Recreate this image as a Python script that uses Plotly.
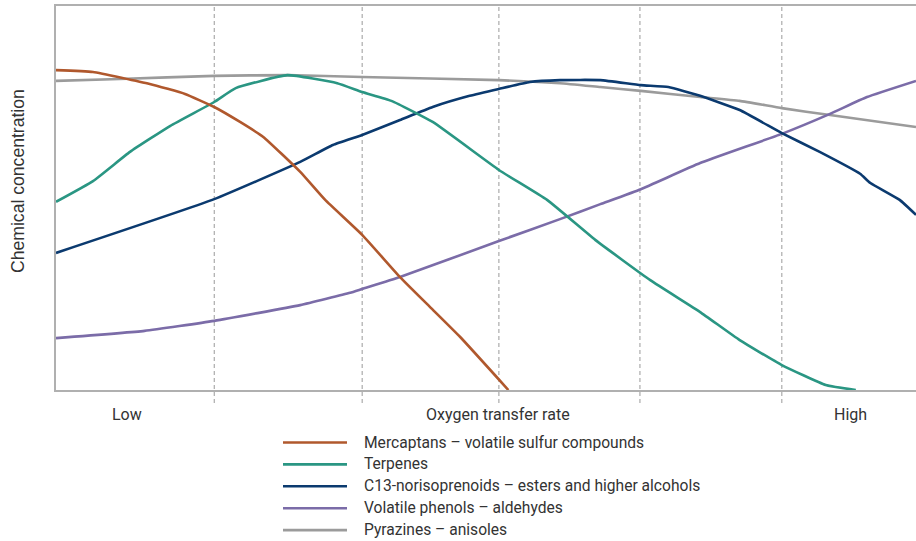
import plotly.graph_objects as go

# ---- data (x: oxygen transfer rate 0-100, y: relative concentration 0-100) ----
series_names = [
    "Mercaptans – volatile sulfur compounds",
    "Terpenes",
    "C13-norisoprenoids – esters and higher alcohols",
    "Volatile phenols – aldehydes",
    "Pyrazines – anisoles",
]
series_colors = ["#B0582D", "#2A9683", "#0B3A6F", "#7B6CA8", "#9B9B9B"]

merc_x = [0, 4.3, 10.9, 15.0, 18.4, 21.4, 24.1, 28.4, 31.3, 35.6, 40.0, 43.5, 47.0, 52.6]
merc_y = [83.3, 82.8, 79.7, 77.1, 73.7, 69.8, 65.9, 56.8, 49.5, 40.4, 29.4, 21.6, 13.8, 0]

terp_x = [0, 4.3, 8.6, 13.3, 18.4, 20.9, 26.9, 32.7, 35.6, 39.0, 43.8, 51.5, 57.1, 62.7, 69.1, 74.9, 79.5, 84.4, 89.5, 93.0]
terp_y = [49.0, 54.4, 62.0, 68.8, 75.0, 78.6, 82.0, 79.9, 77.6, 75.3, 69.8, 57.3, 49.5, 39.1, 28.6, 20.3, 13.0, 6.5, 1.3, 0]

c13_x = [0, 18.4, 28.4, 32.2, 35.6, 40.0, 43.8, 48.1, 51.5, 55.1, 58.6, 63.3, 68.0, 71.2, 74.9, 79.5, 84.4, 88.8, 93.5, 94.7, 98.1, 100]
c13_y = [35.7, 49.7, 59.4, 63.8, 66.4, 70.3, 73.7, 76.6, 78.4, 80.2, 80.7, 80.7, 79.4, 78.9, 76.6, 72.9, 66.9, 62.0, 56.3, 53.9, 49.5, 45.6]

phen_x = [0, 10.3, 18.4, 28.4, 34.2, 35.6, 40.0, 51.5, 58.6, 63.3, 68.0, 74.9, 84.4, 90.0, 94.3, 100]
phen_y = [13.5, 15.4, 18.0, 22.1, 25.3, 26.3, 29.4, 38.8, 44.5, 48.4, 52.3, 59.1, 66.7, 71.9, 76.3, 80.5]

pyr_x = [0, 7.4, 18.4, 26.9, 35.6, 51.5, 58.6, 63.3, 68.0, 74.9, 79.5, 84.4, 90.0, 100]
pyr_y = [80.5, 81.0, 81.8, 82.0, 81.5, 80.7, 79.9, 78.9, 77.9, 76.3, 75.3, 73.4, 71.6, 68.5]

divider_x = [18.4, 35.6, 51.5, 67.9, 84.4]

axis_label_x = [8.3, 51.4, 92.4]
axis_label_text = ["Low", "Oxygen transfer rate", "High"]
y_title = "Chemical concentration"

xs = [merc_x, terp_x, c13_x, phen_x, pyr_x]
ys = [merc_y, terp_y, c13_y, phen_y, pyr_y]

FONT = "Roboto, Liberation Sans, Arial, sans-serif"
TXT = "#333333"

fig = go.Figure()
order = [4, 3, 2, 1, 0]
for i in order:
    fig.add_trace(go.Scatter(
        x=xs[i], y=ys[i], mode="lines", name=series_names[i],
        line=dict(color=series_colors[i], width=2.6, shape="spline", smoothing=0.4),
        showlegend=False, hoverinfo="skip",
    ))

shapes = []
for dx in divider_x:
    shapes.append(dict(type="line", xref="x", yref="paper", x0=dx, x1=dx,
                       y0=-13 / 384, y1=1,
                       line=dict(color="#9A9A9A", width=1, dash="4px,3px"), layer="below"))

annotations = []
for lx, lt in zip(axis_label_x, axis_label_text):
    annotations.append(dict(x=lx, y=-24 / 384, xref="x", yref="paper", text=lt,
                            showarrow=False, xanchor="center", yanchor="middle",
                            font=dict(family=FONT, size=16, color=TXT)))

annotations.append(dict(x=(18 - 56) / 860, y=(390 - 181) / 384, xref="paper", yref="paper",
                        text=y_title, textangle=-90, showarrow=False,
                        xanchor="center", yanchor="middle",
                        font=dict(family="Liberation Sans, Arial, sans-serif", size=17.6, color=TXT)))

# manual legend
row0 = 442.5
row_step = 21.9
for k in range(len(series_names)):
    py = row0 + k * row_step
    yp = (390 - py) / 384
    shapes.append(dict(type="line", xref="paper", yref="paper",
                       x0=(283 - 56) / 860, x1=(347 - 56) / 860, y0=yp, y1=yp,
                       line=dict(color=series_colors[k], width=2.6)))
    annotations.append(dict(x=(362 - 56) / 860, y=yp, xref="paper", yref="paper",
                            text=series_names[k], showarrow=False,
                            xanchor="left", yanchor="middle",
                            font=dict(family=FONT, size=15.6, color=TXT)))

fig.update_layout(
    width=916, height=541,
    margin=dict(l=56, r=0, t=6, b=151),
    paper_bgcolor="white", plot_bgcolor="white",
    shapes=shapes, annotations=annotations,
    showlegend=False,
    xaxis=dict(range=[0, 100], showgrid=False, zeroline=False, showticklabels=False,
               ticks="", showline=True, mirror=True, linecolor="#B0B0B0", linewidth=2),
    yaxis=dict(range=[0, 100], showgrid=False, zeroline=False, showticklabels=False,
               ticks="", showline=True, mirror=False, linecolor="#B0B0B0", linewidth=2),
)

fig.write_html("out.html", config={"displayModeBar": False, "staticPlot": True},
               post_script="document.body.style.margin='0';document.body.style.padding='0';document.body.style.overflow='hidden';")
